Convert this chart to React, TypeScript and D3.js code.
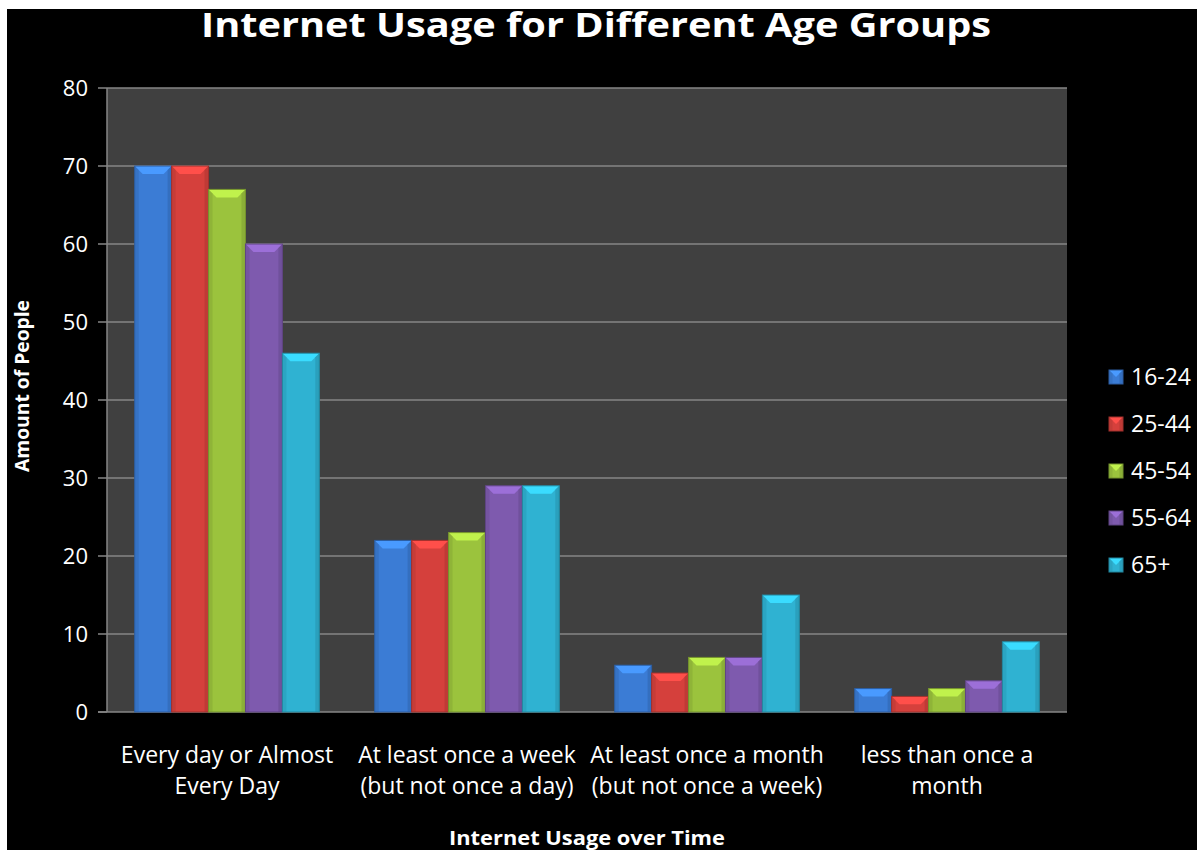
import React from "react";
import * as d3 from "d3";

const categories: string[][] = [
  ["Every day or Almost", "Every Day"],
  ["At least once a week", "(but not once a day)"],
  ["At least once a month", "(but not once a week)"],
  ["less than once a", "month"],
];
const seriesNames = ["16-24", "25-44", "45-54", "55-64", "65+"];
const seriesColors = ["#3b7cd5", "#d5403c", "#9bc33d", "#7e5aae", "#2fb2d2"];
const v1624 = [70, 22, 6, 3];
const v2544 = [70, 22, 5, 2];
const v4554 = [67, 23, 7, 3];
const v5564 = [60, 29, 7, 4];
const v65 = [46, 29, 15, 9];
const seriesValues = [v1624, v2544, v4554, v5564, v65];
const yTicks = [0, 10, 20, 30, 40, 50, 60, 70, 80];

const FONT = "'Open Sans', Lato, sans-serif";

function Bar({ x, y, w, h, color, bevel = 8 }: { x: number; y: number; w: number; h: number; color: string; bevel?: number }) {
  const c = d3.color(color)!;
  const light = d3.rgb(c).brighter(0.6).formatHex();
  const dark = d3.rgb(c).darker(0.45).formatHex();
  const darker = d3.rgb(c).darker(0.8).formatHex();
  const b = Math.min(bevel, h / 2, w / 2);
  const x2 = x + w;
  const y2 = y + h;
  return (
    <g>
      <rect x={x} y={y} width={w} height={h} fill={color} />
      <polygon points={`${x},${y} ${x2},${y} ${x2 - b},${y + b} ${x + b},${y + b}`} fill={light} />
      <polygon points={`${x},${y} ${x + b * 0.5},${y + b * 0.5} ${x + b * 0.5},${y2} ${x},${y2}`} fill={dark} opacity={0.5} />
      <polygon points={`${x2},${y} ${x2 - b * 0.5},${y + b * 0.5} ${x2 - b * 0.5},${y2} ${x2},${y2}`} fill={dark} opacity={0.7} />
      <rect x={x} y={y} width={w} height={h} fill="none" stroke={darker} strokeWidth={1} />
    </g>
  );
}

export default function App() {
  const W = 1203;
  const H = 850;
  const left = 107;
  const right = 1067;
  const top = 88;
  const bottom = 712;

  const y = d3.scaleLinear().domain([0, 80]).range([bottom, top]);
  const x0 = d3
    .scaleBand<number>()
    .domain(categories.map((_, i) => i))
    .range([left, right])
    .padding(0);
  const gw = x0.bandwidth();
  const gap = (gw * 0.75) / 6.5;
  const x1 = d3
    .scaleBand<number>()
    .domain(seriesNames.map((_, i) => i))
    .range([gap, gw - gap])
    .padding(0);

  return (
    <svg
      width={W}
      height={H}
      style={{ position: "absolute", left: 0, top: 0, display: "block" }}
      fontFamily={FONT}
    >
      <rect x={0} y={0} width={W} height={H} fill="#ffffff" />
      <rect x={7} y={9} width={1190} height={H - 9} fill="#000000" />
      <text
        x={596}
        y={37}
        textAnchor="middle"
        fill="#ffffff"
        fontSize={34}
        fontWeight={700}
        textLength={790}
        lengthAdjust="spacingAndGlyphs"
      >
        Internet Usage for Different Age Groups
      </text>

      {/* plot area */}
      <rect x={left} y={top} width={right - left} height={bottom - top} fill="#404040" />
      {yTicks.map((t) => (
        <g key={t}>
          {t > 0 && (
            <line x1={left} x2={right} y1={y(t)} y2={y(t)} stroke="#868686" strokeWidth={1.5} />
          )}
          <line x1={98} x2={left} y1={y(t)} y2={y(t)} stroke="#868686" strokeWidth={1.5} />
          <text x={88} y={y(t)} dy="0.36em" textAnchor="end" fill="#ffffff" fontSize={22}>
            {t}
          </text>
        </g>
      ))}
      <line x1={left} x2={left} y1={top} y2={bottom} stroke="#868686" strokeWidth={1.5} />
      <line x1={98} x2={right} y1={bottom} y2={bottom} stroke="#868686" strokeWidth={1.5} />

      {categories.map((cat, ci) => (
        <g key={ci}>
          {seriesValues.map((vals, si) => {
            const bx = x0(ci)! + x1(si)!;
            const by = y(vals[ci]);
            return (
              <Bar
                key={si}
                x={bx}
                y={by}
                w={x1.bandwidth()}
                h={bottom - by}
                color={seriesColors[si]}
              />
            );
          })}
          {cat.map((line, li) => (
            <text
              key={li}
              x={x0(ci)! + gw / 2}
              y={763 + li * 31}
              textAnchor="middle"
              fill="#ffffff"
              fontSize={23}
            >
              {line}
            </text>
          ))}
        </g>
      ))}

      <text
        transform={`translate(29,386) rotate(-90)`}
        textAnchor="middle"
        fill="#ffffff"
        fontSize={20}
        fontWeight={700}
        textLength={172}
        lengthAdjust="spacingAndGlyphs"
      >
        Amount of People
      </text>
      <text
        x={587}
        y={845}
        textAnchor="middle"
        fill="#ffffff"
        fontSize={20}
        fontWeight={700}
        textLength={276}
        lengthAdjust="spacingAndGlyphs"
      >
        Internet Usage over Time
      </text>

      {/* legend */}
      {seriesNames.map((n, i) => {
        const ly = 377 + i * 47;
        return (
          <g key={n}>
            <Bar x={1109} y={ly - 7} w={14} h={14} color={seriesColors[i]} bevel={7} />
            <text x={1131} y={ly} dy="0.36em" fill="#ffffff" fontSize={23}>
              {n}
            </text>
          </g>
        );
      })}
    </svg>
  );
}
